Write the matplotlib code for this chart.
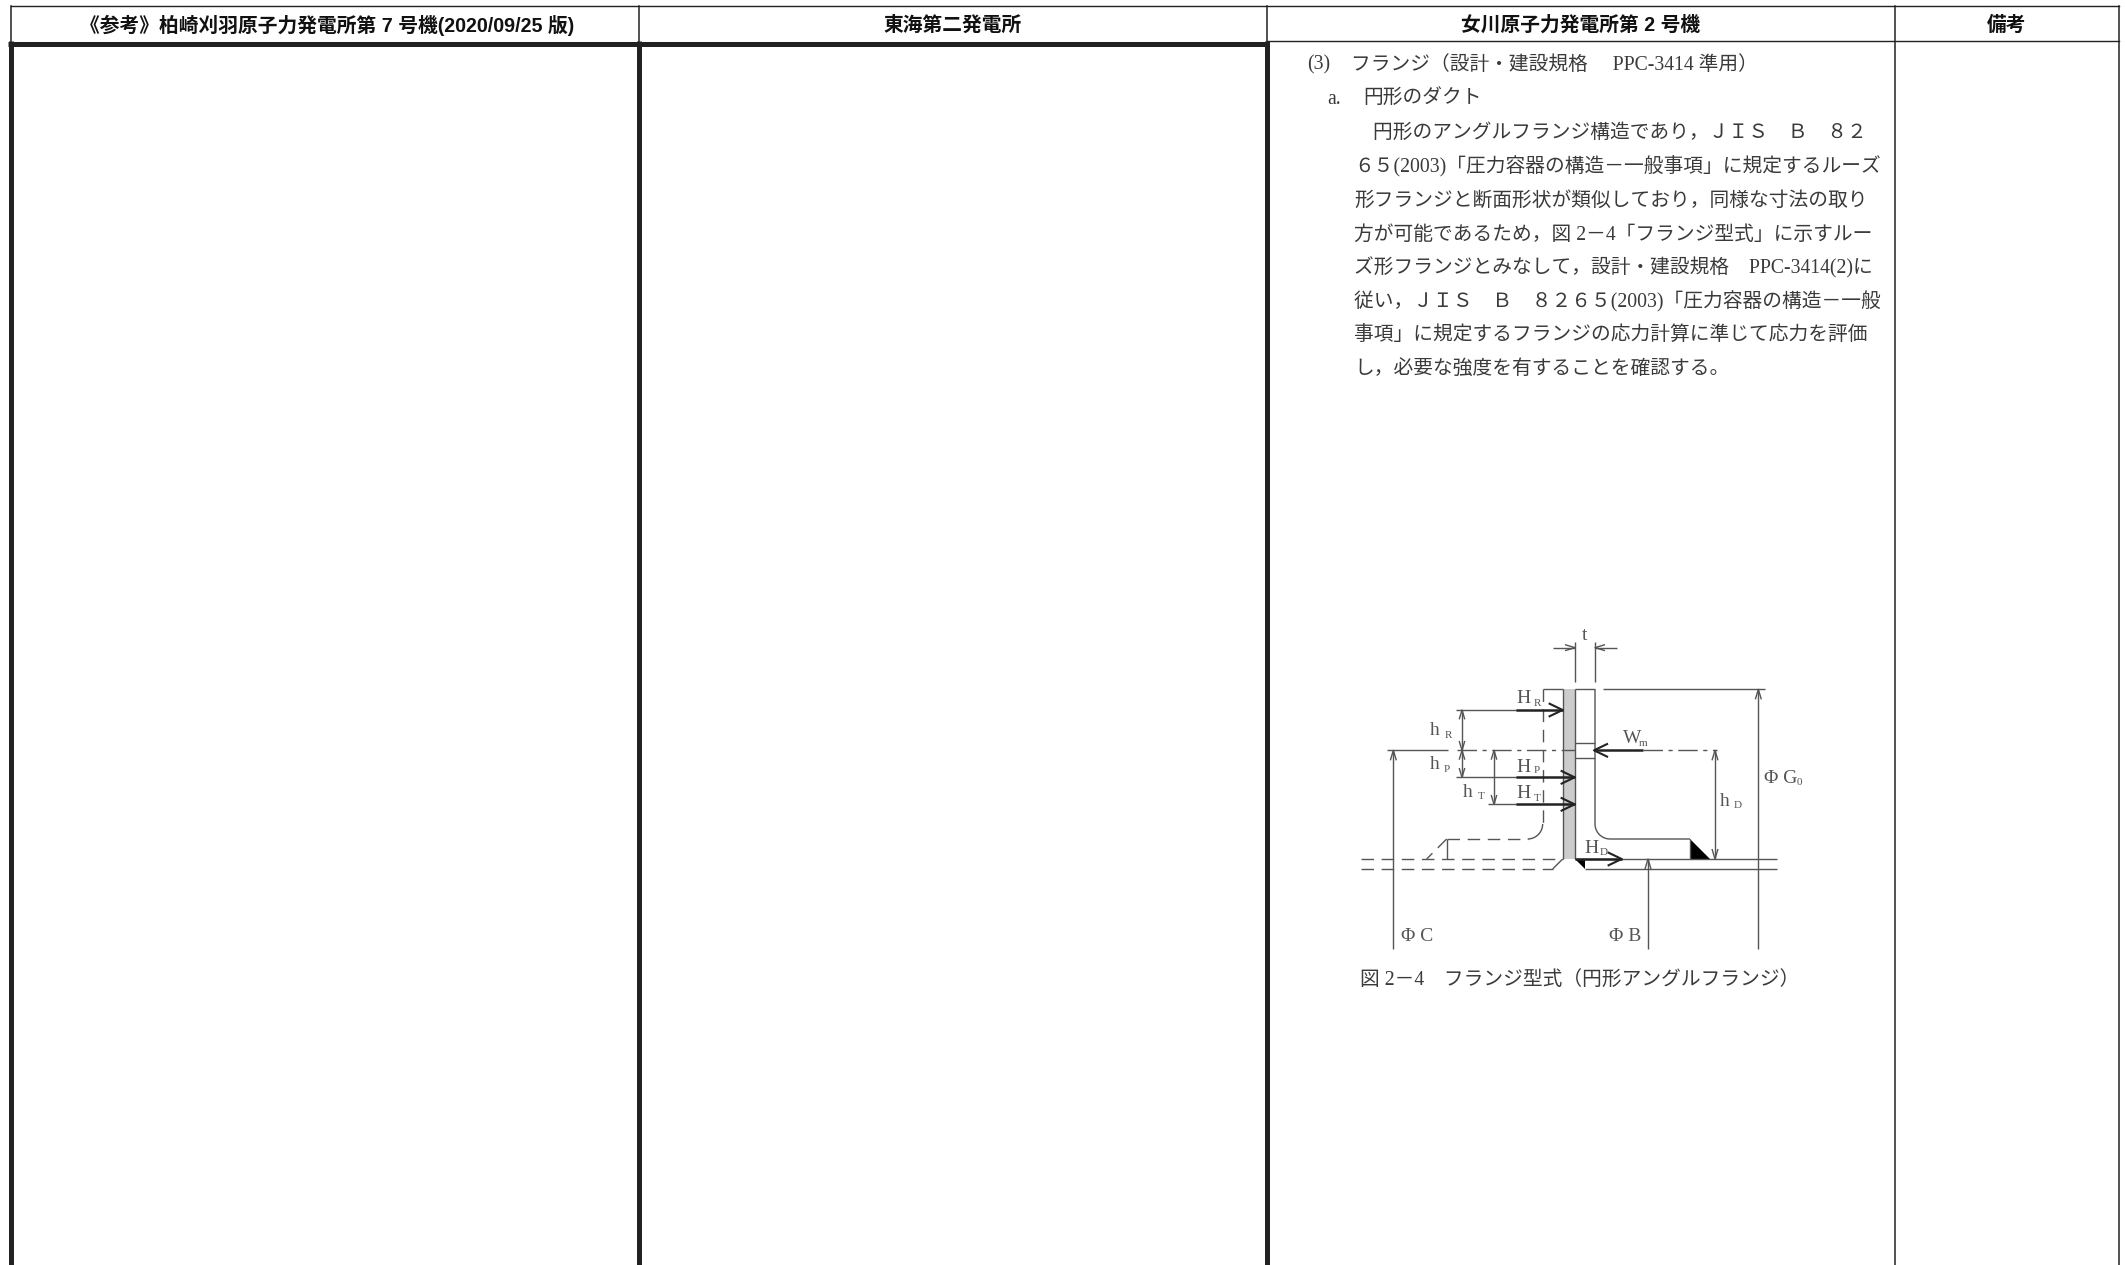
import numpy as np
import matplotlib
matplotlib.use('Agg')
import matplotlib.pyplot as plt
from matplotlib.patches import Polygon

### Comparison table page with the flange figure, drawn in page pixels.

W, H = 2125, 1265
SERIF = ['Liberation Serif', 'Noto Sans CJK JP', 'DejaVu Sans']
GOTHIC = ['Liberation Sans', 'Noto Sans CJK JP', 'DejaVu Sans']
GREY = '#555555'
TEXT = '#3a3a3a'
INK = '#222222'

header_labels = ['《参考》柏崎刈羽原子力発電所第 7 号機(2020/09/25 版)', '東海第二発電所',
                 '女川原子力発電所第 2 号機', '備考']
header_centers = [327, 953, 1581, 2007]
column_lines = [10.5, 638.5, 1266.5, 1894.5, 2119]

body_lines = ['(3)', 'フランジ（設計・建設規格　 PPC-3414 準用）',
              'a.', '円形のダクト',
              '円形のアングルフランジ構造であり，ＪＩＳ　Ｂ　８２',
              '６５(2003)「圧力容器の構造－一般事項」に規定するルーズ',
              '形フランジと断面形状が類似しており，同様な寸法の取り',
              '方が可能であるため，図 2－4「フランジ型式」に示すルー',
              'ズ形フランジとみなして，設計・建設規格　PPC-3414(2)に',
              '従い，ＪＩＳ　Ｂ　８２６５(2003)「圧力容器の構造－一般',
              '事項」に規定するフランジの応力計算に準じて応力を評価',
              'し，必要な強度を有することを確認する。']
body_x = [1307, 1351, 1327, 1363, 1373, 1354, 1354, 1354, 1354, 1354, 1354, 1354]
body_y = [65, 65, 99, 99, 133, 167, 201, 235, 268, 302, 336, 370]
caption = '図 2－4　フランジ型式（円形アングルフランジ）'

# main letter, subscript, zoomed x, baseline, subscript offset, subscript baseline
dim_labels = [('H', 'R', 530, 280, 52, 288),
              ('h', 'R', 270, 375, 43, 383),
              ('h', 'P', 268, 478, 43, 485),
              ('H', 'P', 530, 486, 52, 490),
              ('h', 'T', 368, 560, 45, 568),
              ('H', 'T', 530, 565, 52, 572),
              ('H', 'D', 733, 728, 45, 735),
              ('h', 'D', 1138, 588, 42, 595),
              ('W', 'm', 850, 400, 47, 408),
              ('Φ G', '0', 1272, 520, 98, 526),
              ('Φ C', '', 183, 993, 0, 0),
              ('Φ B', '', 806, 993, 0, 0),
              ('t', '', 725, 90, 0, 0)]


def zx(x):
    return 1340 + np.asarray(x) / 3


def zy(y):
    return 610 + np.asarray(y) / 3


def seg(ax, xs, ys, color=GREY, lw=1.0, ls='-'):
    ax.plot(zx(xs), zy(ys), color=color, lw=lw, ls=ls, solid_capstyle='butt')


def head(ax, x, y, dx, dy, size=30, color=GREY, lw=1.0, ratio=0.3):
    # open arrow head with tip at x,y pointing along dx,dy
    px, py = -dy, dx
    seg(ax, [x - dx*size + px*size*ratio, x, x - dx*size - px*size*ratio],
        [y - dy*size + py*size*ratio, y, y - dy*size - py*size*ratio], color, lw)


def draw_flange(ax):
    # t dimension
    seg(ax, [705, 705], [95, 215]); seg(ax, [765, 765], [95, 215])
    seg(ax, [640, 705], [113, 113]); seg(ax, [765, 830], [113, 113])
    head(ax, 705, 113, 1, 0); head(ax, 765, 113, -1, 0)
    # flange outline
    ax.add_patch(Polygon(np.c_[zx([668, 704, 704, 668]), zy([238, 238, 747, 747])],
                         color='#cccccc', lw=0))
    seg(ax, [608, 668], [238, 238]); seg(ax, [704, 765], [238, 238])
    seg(ax, [788, 1275], [238, 238])
    seg(ax, [668, 668], [238, 747]); seg(ax, [704, 704], [238, 747])
    t = np.linspace(0, np.pi / 2, 12)
    seg(ax, np.r_[765, 765, 810 - 45 * np.cos(t), 1050],
        np.r_[238, 642, 642 + 45 * np.sin(t), 687])
    seg(ax, [704, 765], [398, 398]); seg(ax, [704, 765], [443, 443])
    # pipe
    seg(ax, [704, 1310], [747, 747]); seg(ax, [735, 1310], [777, 777])
    seg(ax, [1050, 1050], [687, 747])
    seg(ax, [668, 638], [747, 777])
    ax.add_patch(Polygon(np.c_[zx([1050, 1110, 1050]), zy([687, 747, 747])], color='black', lw=0))
    ax.add_patch(Polygon(np.c_[zx([704, 735, 735]), zy([747, 747, 777])], color='black', lw=0))
    # dashed mating flange
    dash = (0, (9, 5.5))
    seg(ax, [608, 608], [238, 640], ls=dash)
    seg(ax, 563 + 45 * np.cos(t), 642 + 45 * np.sin(t), ls='-')
    seg(ax, [320, 563], [687, 687], ls=dash)
    seg(ax, [320, 260], [687, 747], ls=dash)
    seg(ax, [320, 320], [687, 747])
    seg(ax, [62, 668], [747, 747], ls=dash)
    seg(ax, [62, 638], [777, 777], ls=dash)
    # centre line of bolt circle
    seg(ax, [142, 325], [421, 421])
    seg(ax, [350, 704], [421, 421], ls=(0, (14, 4, 3, 4)))
    seg(ax, [910, 1130], [421, 421], ls=(0, (14, 4, 3, 4)))
    # dimensions
    seg(ax, [348, 530], [300, 300]); seg(ax, [348, 530], [502, 502]); seg(ax, [445, 530], [583, 583])
    seg(ax, [366, 366], [300, 502])
    for y, d in [(300, -1), (421, 1), (421, -1), (502, 1)]:
        head(ax, 366, y, 0, d, 28)
    seg(ax, [462, 462], [421, 583])
    head(ax, 462, 421, 0, -1, 28); head(ax, 462, 583, 0, 1, 28)
    seg(ax, [160, 160], [421, 1018]); head(ax, 160, 421, 0, -1)
    seg(ax, [924, 924], [747, 1018]); head(ax, 924, 747, 0, -1)
    seg(ax, [1255, 1255], [238, 1018]); head(ax, 1255, 238, 0, -1)
    seg(ax, [1125, 1125], [421, 747])
    head(ax, 1125, 421, 0, -1); head(ax, 1125, 747, 0, 1)
    # load arrows
    for x0, x1, y in [(528, 668, 300), (528, 704, 502), (528, 704, 583), (705, 845, 747)]:
        seg(ax, [x0, x1], [y, y], INK, 1.8)
        head(ax, x1, y, 1, 0, 42, INK, 1.5, 0.48)
    seg(ax, [762, 910], [421, 421], INK, 1.8)
    head(ax, 762, 421, -1, 0, 42, INK, 1.5, 0.48)
    # labels
    for main_txt, sub, x, base, off, sub_base in dim_labels:
        ax.text(zx(x), zy(base), main_txt, fontsize=14, color=GREY, family=SERIF, va='baseline')
        if sub:
            ax.text(zx(x + off), zy(sub_base), sub, fontsize=8, color=GREY, family=SERIF,
                    va='baseline')


def main():
    fig = plt.figure(figsize=(W / 100, H / 100), dpi=100)
    ax = fig.add_axes([0, 0, 1, 1])
    ax.set_xlim(0, W)
    ax.set_ylim(H, 0)
    ax.axis('off')

    # header grid
    ax.plot([column_lines[0], column_lines[-1]], [6, 6], color=INK, lw=1.0)
    ax.plot([column_lines[2], column_lines[-1]], [41, 41], color=INK, lw=1.0)
    for x in column_lines:
        ax.plot([x, x], [6, H], color=INK, lw=1.1)
    # heavy frames of the two empty columns
    ax.plot([8, 1269], [43.5, 43.5], color=INK, lw=3.6, solid_capstyle='butt')
    for x in column_lines[:3]:
        ax.plot([x, x], [41, H], color=INK, lw=3.6, solid_capstyle='butt')

    for label_text, x in zip(header_labels, header_centers):
        ax.text(x, 25, label_text, fontsize=14.2, fontweight='bold', color='#111111',
                family=GOTHIC, ha='center', va='center')
    for txt, x, y in zip(body_lines, body_x, body_y):
        ax.text(x, y, txt, fontsize=14.2, color=TEXT, family=SERIF, va='center')

    draw_flange(ax)
    ax.text(1360, 980, caption, fontsize=14.2, color=TEXT, family=SERIF, va='center')

    fig.savefig('out.png', dpi=100)


if __name__ == '__main__':
    main()
